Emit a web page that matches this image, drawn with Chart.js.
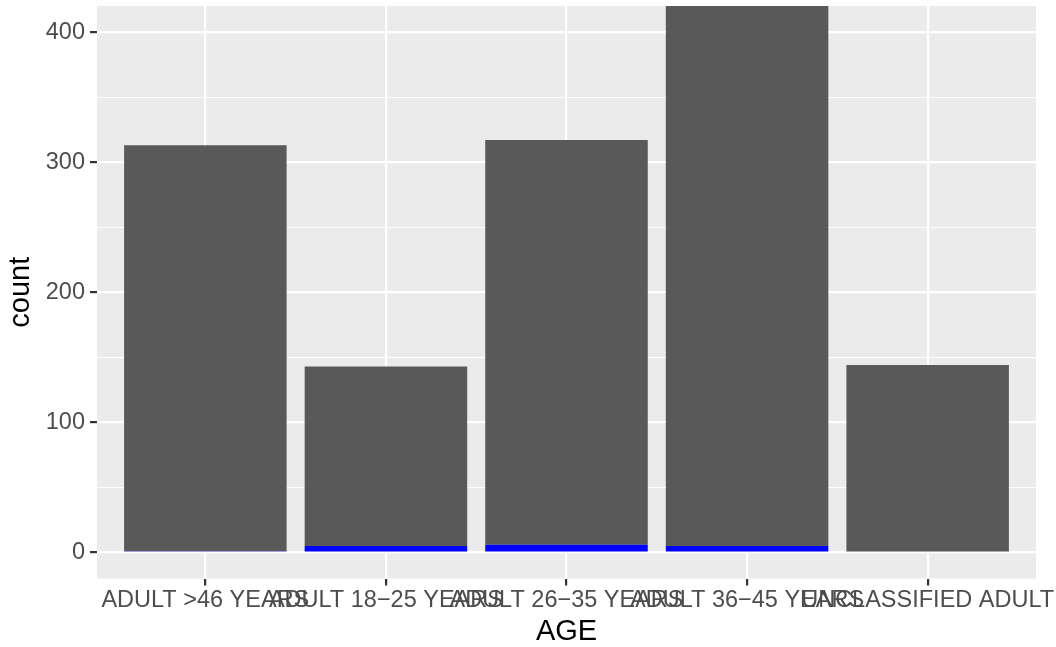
<!DOCTYPE html>
<html>
<head>
<meta charset="utf-8">
<script src="https://cdn.jsdelivr.net/npm/chart.js@4.4.1/dist/chart.umd.min.js"></script>
<style>
  html, body { margin: 0; padding: 0; background: #ffffff; }
  #wrap { width: 1056px; height: 647px; }
</style>
</head>
<body>
<div id="wrap"><canvas id="chart" width="1056" height="647"></canvas></div>
<script>
// categories on the x axis (ggplot order)
var categories = ['ADULT >46 YEARS', 'ADULT 18\u221225 YEARS', 'ADULT 26\u221235 YEARS', 'ADULT 36\u221245 YEARS', 'UNCLASSIFIED ADULT'];
var positions = [1, 2, 3, 4, 5];
// stacked counts: blue at the bottom, grey on top
var blueCounts = [1, 5, 6, 5, 0];
var greyCounts = [312, 138, 311, 425, 144];
var yTicks = [0, 50, 100, 150, 200, 250, 300, 350, 400];
var yLabels = [0, 100, 200, 300, 400];

var font = '"Liberation Sans", Arial, Helvetica, sans-serif';

function pts(vals) {
    var out = [];
    for (var i = 0; i < vals.length; i++) {
        out.push({ x: positions[i], y: vals[i] });
    }
    return out;
}

var panelBg = {
    id: 'panelBg',
    beforeDraw: function(chart) {
        var a = chart.chartArea;
        var ctx = chart.ctx;
        ctx.save();
        ctx.fillStyle = '#EBEBEB';
        ctx.fillRect(a.left, a.top, a.right - a.left, a.bottom - a.top);
        ctx.restore();
    }
};

var chart = new Chart(document.getElementById('chart'), {
    type: 'bar',
    data: {
        datasets: [{
            data: pts(blueCounts),
            backgroundColor: '#0000FF',
            borderWidth: 0,
            barPercentage: 0.9,
            categoryPercentage: 1
        }, {
            data: pts(greyCounts),
            backgroundColor: '#595959',
            borderWidth: 0,
            barPercentage: 0.9,
            categoryPercentage: 1
        }]
    },
    options: {
        responsive: false,
        animation: false,
        layout: { padding: { top: 6, right: 20, left: 0, bottom: 0 } },
        plugins: { legend: { display: false }, tooltip: { enabled: false } },
        scales: {
            x: {
                type: 'linear',
                stacked: true,
                offset: false,
                min: 0.4,
                max: 5.6,
                afterBuildTicks: function(scale) {
                    scale.ticks = positions.map(function(v) { return { value: v }; });
                },
                afterFit: function(scale) {
                    scale.height = 68.5;
                    scale.paddingLeft = 0;
                    scale.paddingRight = 0;
                },
                border: { display: false },
                grid: {
                    offset: false,
                    color: '#FFFFFF',
                    lineWidth: 2.2,
                    tickColor: '#333333',
                    tickWidth: 2.2,
                    tickLength: 7
                },
                ticks: {
                    autoSkip: false,
                    maxRotation: 0,
                    minRotation: 0,
                    padding: 1,
                    color: '#4D4D4D',
                    font: { family: font, size: 23.5 },
                    callback: function(v) { return categories[v - 1]; }
                },
                title: {
                    display: true,
                    text: 'AGE',
                    color: '#000000',
                    font: { family: font, size: 29, lineHeight: 1 },
                    padding: { top: 0, bottom: 1 }
                }
            },
            y: {
                stacked: true,
                min: -20,
                max: 420,
                afterBuildTicks: function(scale) {
                    scale.ticks = yTicks.map(function(v) { return { value: v }; });
                },
                afterFit: function(scale) {
                    scale.width = 97;
                    scale.paddingTop = 0;
                    scale.paddingBottom = 0;
                },
                border: { display: false },
                grid: {
                    color: '#FFFFFF',
                    lineWidth: function(c) { return yLabels.indexOf(c.tick.value) >= 0 ? 2.2 : 1.1; },
                    tickColor: function(c) { return yLabels.indexOf(c.tick.value) >= 0 ? '#333333' : 'rgba(0,0,0,0)'; },
                    tickWidth: 2.2,
                    tickLength: 7
                },
                ticks: {
                    padding: 5,
                    color: '#4D4D4D',
                    font: { family: font, size: 23.5 },
                    callback: function(v) { return yLabels.indexOf(v) >= 0 ? String(v) : ''; }
                },
                title: {
                    display: true,
                    text: 'count',
                    color: '#000000',
                    font: { family: font, size: 29, lineHeight: 1 },
                    padding: { top: 6, bottom: 0 }
                }
            }
        }
    },
    plugins: [panelBg]
});
</script>
</body>
</html>
